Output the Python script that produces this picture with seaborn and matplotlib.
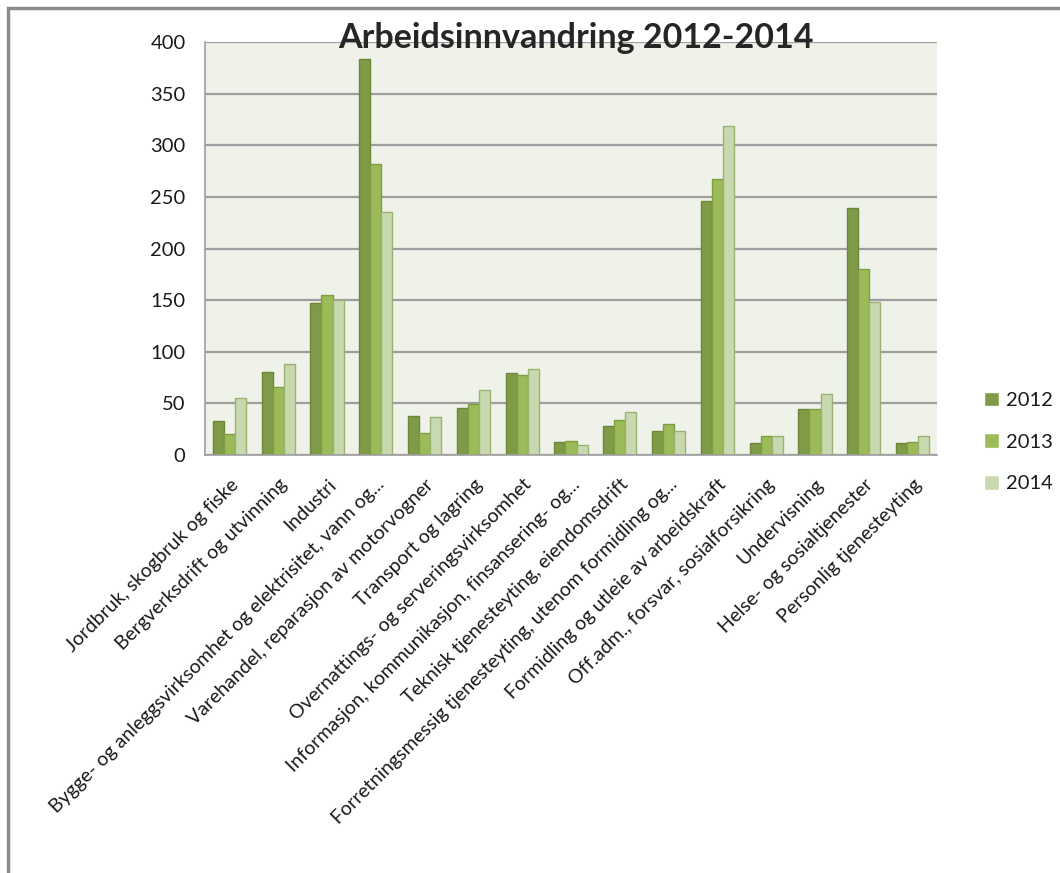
import numpy as np
import pandas as pd
import seaborn as sns
import matplotlib.pyplot as plt
from matplotlib.patches import Rectangle

categories = [
    "Jordbruk, skogbruk og fiske",
    "Bergverksdrift og utvinning",
    "Industri",
    "Bygge- og anleggsvirksomhet og elektrisitet, vann og...",
    "Varehandel, reparasjon av motorvogner",
    "Transport og lagring",
    "Overnattings- og serveringsvirksomhet",
    "Informasjon, kommunikasjon, finsansering- og...",
    "Teknisk tjenesteyting, eiendomsdrift",
    "Forretningsmessig tjenesteyting, utenom formidling og...",
    "Formidling og utleie av arbeidskraft",
    "Off.adm., forsvar, sosialforsikring",
    "Undervisning",
    "Helse- og sosialtjenester",
    "Personlig tjenesteyting",
]
years = ["2012", "2013", "2014"]
v2012 = [33, 80, 147, 384, 38, 46, 79, 13, 28, 23, 246, 12, 45, 239, 12]
v2013 = [20, 66, 155, 282, 21, 49, 77, 14, 34, 30, 267, 18, 45, 180, 13]
v2014 = [55, 88, 150, 235, 37, 63, 83, 10, 42, 23, 319, 18, 59, 148, 18]

fills = ["#7F9B47", "#9BBB59", "#C8D8AF"]
edges = ["#6C863A", "#7F9E45", "#9BB272"]

df = pd.DataFrame({
    "kategori": categories * 3,
    "ar": np.repeat(years, len(categories)),
    "antall": v2012 + v2013 + v2014,
})

sns.set_style("white")
plt.rcParams['font.family'] = ['Lato', 'DejaVu Sans']

fig = plt.figure(figsize=(10.6, 8.73), dpi=100)
ax = fig.add_axes([205/1060, 1-455/873, 732/1060, 413/873])
ax.set_facecolor("#EFF2E9")

sns.barplot(data=df, x="kategori", y="antall", hue="ar", palette=fills,
            width=0.68, ax=ax, errorbar=None, saturation=1, legend=True)
for cont, ec in zip(ax.containers, edges):
    for b in cont:
        b.set_edgecolor(ec)
        b.set_linewidth(1.0)

ax.set_ylim(0, 400)
ax.set_xlim(-0.5, len(categories) - 0.5)
ax.set_yticks(range(0, 401, 50))
ax.yaxis.grid(True, color="#9E9E9E", linewidth=1.6)
ax.set_axisbelow(True)
ax.set_xlabel("")
ax.set_ylabel("")

for s in ["top", "right"]:
    ax.spines[s].set_visible(False)
for s in ["left", "bottom"]:
    ax.spines[s].set_color("#9E9E9E")
    ax.spines[s].set_linewidth(1.2)

ax.tick_params(axis="y", length=7, color="#9E9E9E", width=1.2, labelsize=14.5,
               pad=7, labelcolor="#1A1A1A")
ax.tick_params(axis="x", which="major", length=0, pad=15, labelcolor="#1A1A1A")
ax.set_xticks(np.arange(-0.5, len(categories), 1.0), minor=True)
ax.tick_params(axis="x", which="minor", length=7, color="#9E9E9E", width=1.2)
ax.set_xticks(range(len(categories)))
ax.set_xticklabels(categories, rotation=45, ha="right", va="top",
                   rotation_mode="anchor", fontsize=14)

handles, labels = ax.get_legend_handles_labels()
ax.get_legend().remove()
leg = fig.legend(handles, labels, loc="center left", bbox_to_anchor=(984/1060, 1-442/873),
                 frameon=False, fontsize=14.5, handlelength=0.75, handleheight=0.75,
                 handletextpad=0.35, labelspacing=1.2, borderpad=0, borderaxespad=0)
for t in leg.get_texts():
    t.set_color("#1A1A1A")

fig.text(576/1060, 1-38/873, "Arbeidsinnvandring 2012-2014", ha="center", va="center",
         fontsize=24.5, fontweight="bold")

fig.patches.append(Rectangle((8/1060, -0.1), 1.2, 1-8/873+0.1, transform=fig.transFigure,
                             fill=False, edgecolor="#8C8C8C", linewidth=2.5))

fig.savefig("out.png", dpi=100)
